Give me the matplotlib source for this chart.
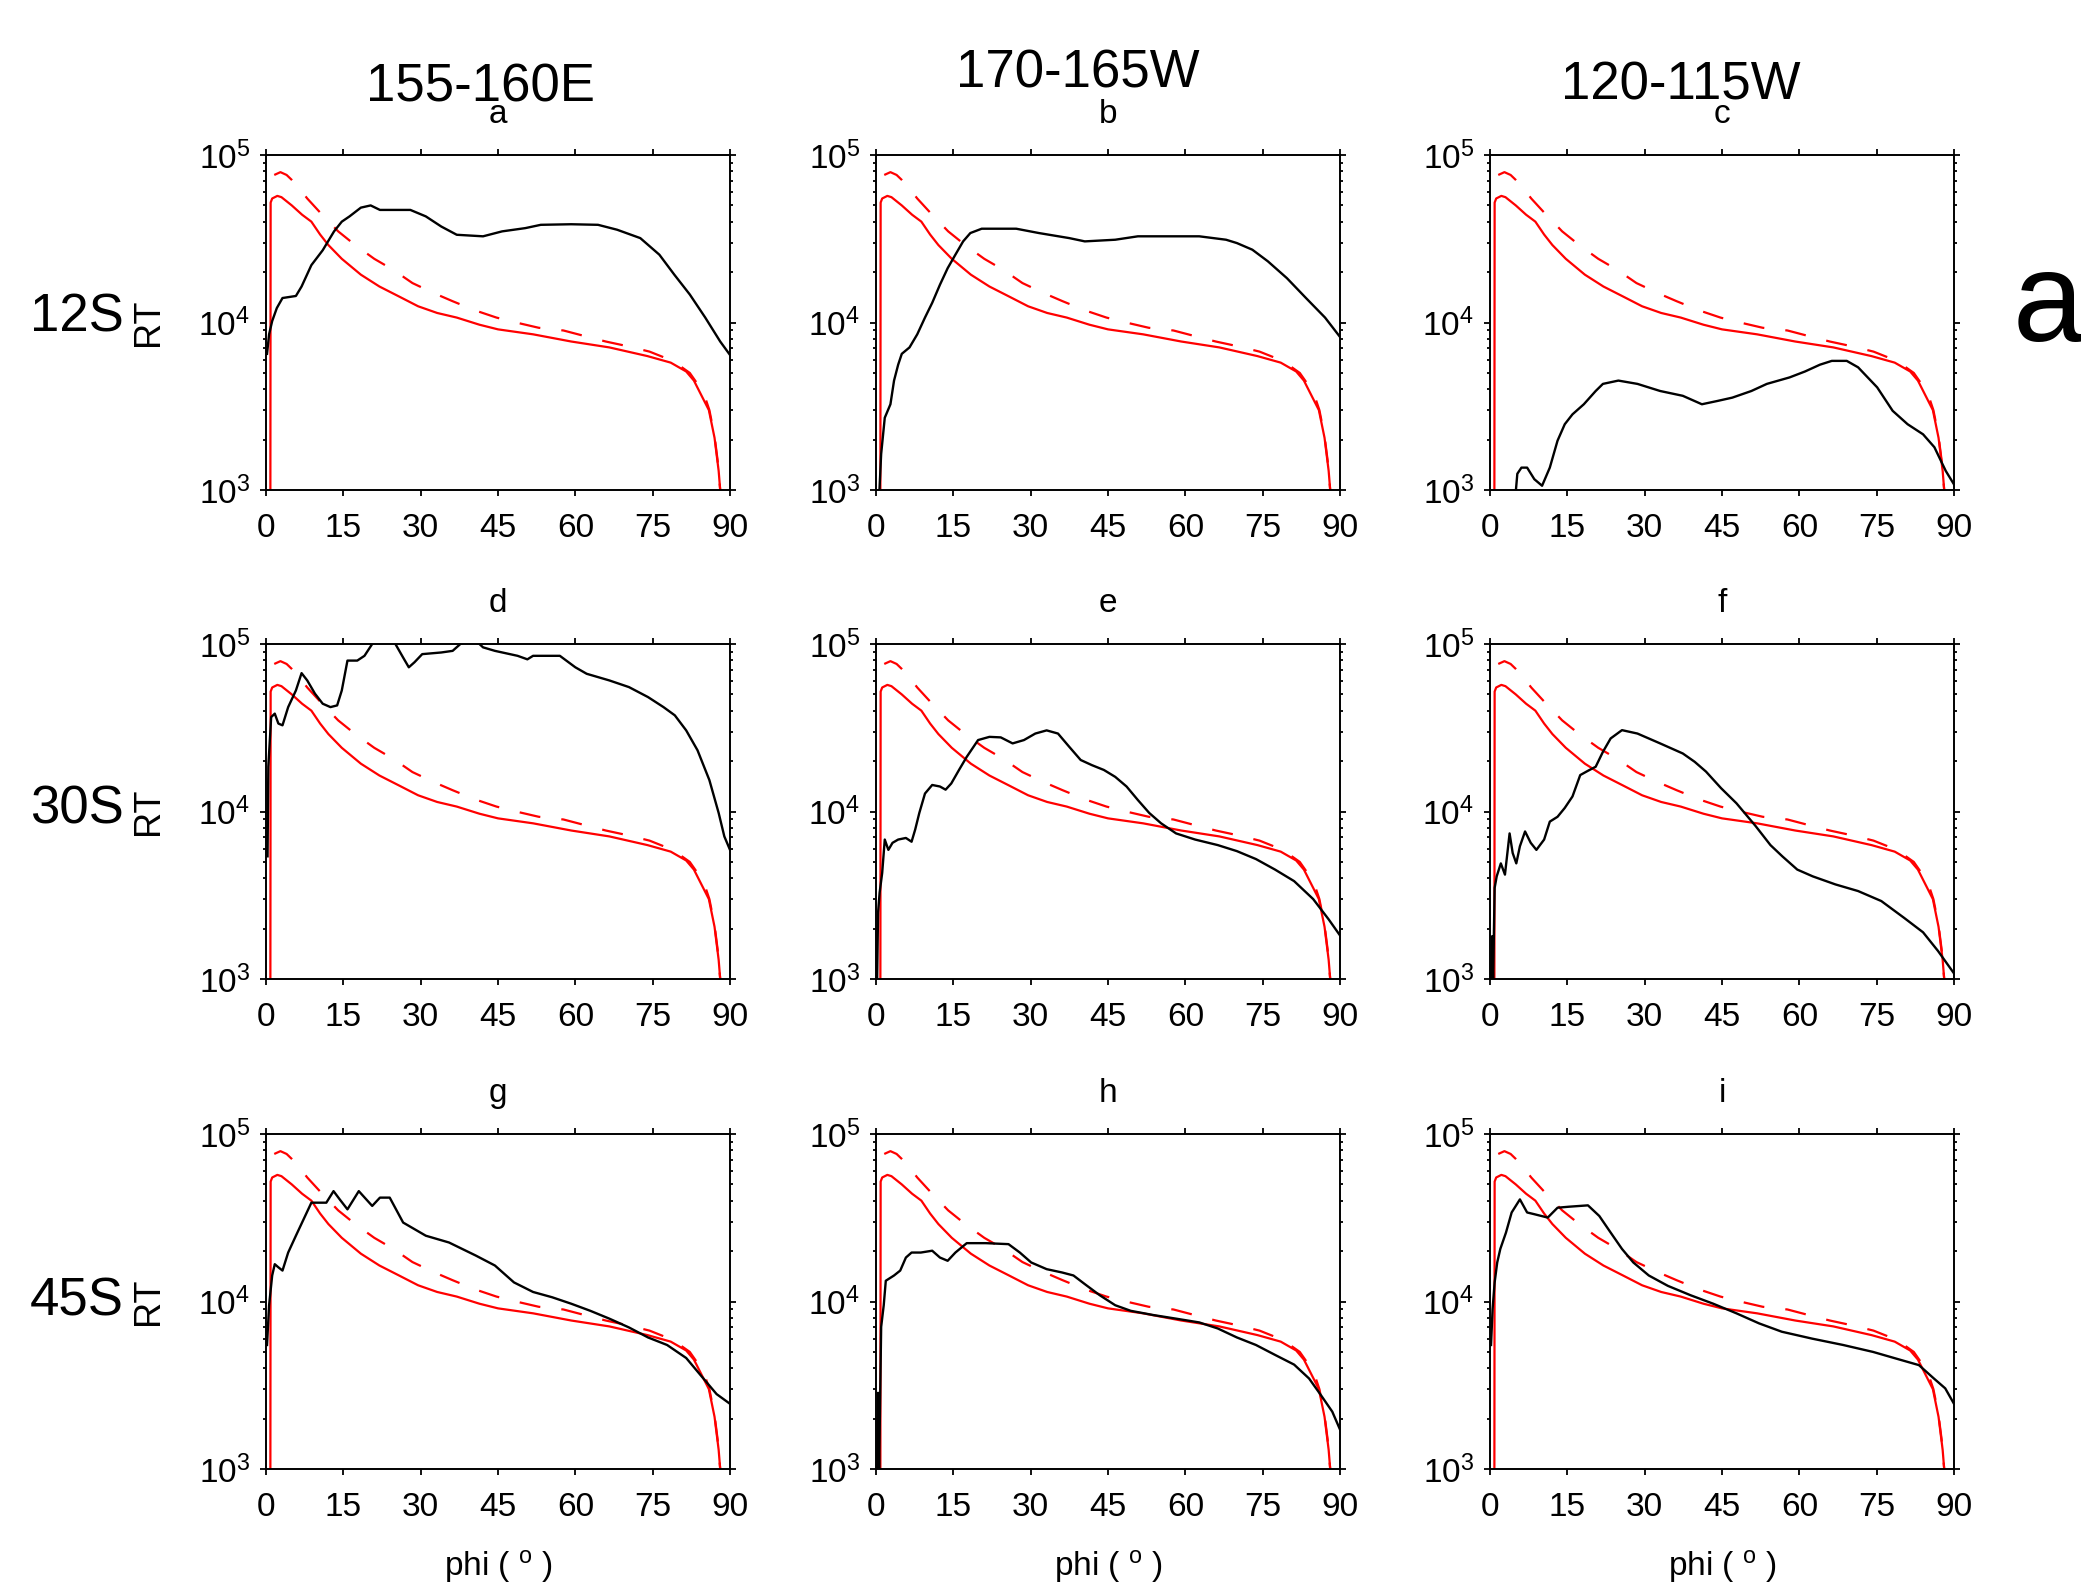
import matplotlib
matplotlib.use('Agg')
import matplotlib.pyplot as plt
from matplotlib.ticker import LogLocator, NullFormatter

plt.rcParams['font.family'] = ['Liberation Sans', 'DejaVu Sans']
plt.rcParams['mathtext.fontset'] = 'custom'
plt.rcParams['mathtext.rm'] = 'Liberation Sans'
plt.rcParams['mathtext.it'] = 'Liberation Sans:italic'
plt.rcParams['mathtext.bf'] = 'Liberation Sans:bold'
plt.rcParams['mathtext.default'] = 'regular'

# model curves (same in every panel)
red_phi = [0.8, 0.85, 0.9, 1.2, 2.2, 3.0, 5, 7, 8.8, 10.5, 12.1, 14.7, 18.4, 22, 25.8, 29.5,
           33.2, 37, 41.4, 45, 51.8, 59.2, 66.6, 74, 78.5, 81.5, 83, 84.4, 85.9, 87.0,
           87.8, 88.1, 88.3]
red_rt = [600, 1.0e3, 52e3, 55e3, 57e3, 56e3, 50e3, 44e3, 40e3, 33.5e3, 29e3, 24e3, 19.3e3,
          16.4e3, 14.3e3, 12.5e3, 11.4e3, 10.7e3, 9.7e3, 9.1e3, 8.5e3, 7.7e3, 7.1e3, 6.3e3,
          5.76e3, 5.1e3, 4.5e3, 3.7e3, 3.0e3, 2.05e3, 1.3e3, 1.0e3, 600]

red2_phi = [1.6, 2.8, 4, 5, 6.5, 8, 10.6, 14, 17.3, 21, 24.7, 28.4, 32.5, 36.2, 40.6, 44.7,
            48.8, 52.9, 57.7, 61.8, 65.9, 70.3, 74.4, 78.9, 82.2, 84.4, 85.2, 86, 87, 87.6,
            88.1, 88.3]
red2_rt = [76e3, 79e3, 76e3, 71e3, 63e3, 55e3, 45e3, 35e3, 29e3, 24e3, 20.6e3, 17.2e3, 15e3,
           13.4e3, 11.8e3, 10.7e3, 9.95e3, 9.3e3, 8.96e3, 8.3e3, 7.7e3, 7.2e3, 6.7e3, 5.9e3,
           5.0e3, 4.0e3, 3.55e3, 3.0e3, 2.1e3, 1.5e3, 1.0e3, 600]

# observed curves, one per panel
phi_a = [0.2, 0.6, 1.2, 2.1, 3.2, 5.8, 6.9, 8.8, 11, 13.2, 14.7, 16.2, 18.4, 20.3, 22.1, 28,
         31, 34, 37, 42.1, 45.8, 50.3, 53.3, 59.2, 64.4, 68.1, 72.6, 76.3, 79.2, 82.2, 85.2,
         88.1, 90]
rt_a = [6.5e3, 8.5e3, 10.2e3, 12.2e3, 14e3, 14.4e3, 16.4e3, 22e3, 27e3, 35e3, 40e3, 43e3,
        48.5e3, 50e3, 47e3, 47e3, 43e3, 37.4e3, 33.4e3, 32.7e3, 35e3, 36.6e3, 38.3e3, 38.6e3,
        38.3e3, 35.8e3, 31.9e3, 25.4e3, 19.3e3, 14.7e3, 10.7e3, 7.7e3, 6.4e3]

phi_b = [0.6, 1.0, 1.7, 2.8, 3.5, 4.3, 5, 6.5, 8, 9.5, 10.9, 12.4, 13.9, 15.4, 16.9, 18.3,
         20.5, 27.2, 31.6, 37.5, 40.5, 46.4, 50.8, 62.7, 67.9, 70, 73, 76, 79.7, 83.4, 87.1, 90]
rt_b = [0.9e3, 1.64e3, 2.7e3, 3.25e3, 4.5e3, 5.6e3, 6.5e3, 7.1e3, 8.5e3, 10.7e3, 13.1e3,
        16.8e3, 21.1e3, 25.4e3, 30.5e3, 34.2e3, 36.3e3, 36.3e3, 34.2e3, 31.9e3, 30.5e3,
        31.2e3, 32.7e3, 32.7e3, 31.2e3, 29.8e3, 27.2e3, 23.2e3, 18.4e3, 14e3, 10.7e3, 8.2e3]

phi_c = [4.9, 5.3, 6.1, 7.2, 8.6, 10.1, 11.6, 13.1, 14.5, 16, 18.2, 20.5, 21.9, 24.9, 28.6,
         33, 37.4, 41.1, 44.1, 47, 50.7, 53.7, 58.1, 61.1, 64, 66.3, 69.2, 71.4, 75.1, 78.1,
         81, 84, 86.2, 88.4, 90]
rt_c = [0.9e3, 1.25e3, 1.36e3, 1.36e3, 1.16e3, 1.06e3, 1.36e3, 1.97e3, 2.47e3, 2.83e3,
        3.25e3, 3.9e3, 4.3e3, 4.5e3, 4.3e3, 3.9e3, 3.65e3, 3.25e3, 3.4e3, 3.56e3, 3.9e3,
        4.3e3, 4.7e3, 5.1e3, 5.6e3, 5.9e3, 5.9e3, 5.4e3, 4.1e3, 2.97e3, 2.47e3, 2.15e3,
        1.8e3, 1.3e3, 1.08e3]

phi_d = [0.3, 0.45, 1, 1.7, 2.4, 3.2, 4.3, 5.8, 6.9, 8, 9.5, 11, 12.5, 13.8, 14.7, 15.8,
         17.7, 19.1, 20.6, 22.5, 24, 25.1, 26.6, 27.7, 28.8, 30.3, 34, 36.2, 37.7, 39.5,
         41.4, 42.1, 44.4, 48.8, 50.7, 51.8, 57, 60, 62.2, 66.6, 70.4, 74.1, 77.1, 79.3,
         81.5, 83.7, 86, 87.8, 88.9, 90]
rt_d = [5.4e3, 18.5e3, 36.6e3, 38.4e3, 33.5e3, 32.7e3, 42e3, 52.8e3, 67e3, 60.6e3, 50.5e3,
        44e3, 42e3, 43e3, 52.8e3, 79.6e3, 79.6e3, 85e3, 100e3, 112e3, 110e3, 100e3, 83e3,
        72.6e3, 77.8e3, 87e3, 89e3, 91e3, 100e3, 104e3, 100e3, 95.5e3, 91e3, 85e3, 81e3,
        85e3, 85e3, 72.6e3, 66.4e3, 60.6e3, 55.3e3, 48.2e3, 42e3, 37.5e3, 30.5e3, 23.2e3,
        15.4e3, 9.8e3, 7.1e3, 5.9e3]

phi_e = [0.2, 0.4, 0.7, 1.2, 1.7, 2.4, 3.2, 4.3, 5.8, 6.9, 7.6, 8.4, 9.5, 10.9, 12.4, 13.5,
         14.6, 16.1, 17.6, 19.8, 22, 24.2, 26.5, 28.7, 30.9, 33.1, 35.3, 37.5, 39.7, 41.9,
         44.2, 46.4, 48.6, 50.8, 53, 55.3, 58.2, 61.9, 66.3, 70, 73.7, 77.4, 81.1, 84.8,
         87.8, 90]
rt_e = [0.9e3, 2.49e3, 3.27e3, 4.3e3, 6.8e3, 5.9e3, 6.5e3, 6.8e3, 6.95e3, 6.6e3, 7.8e3,
        9.8e3, 12.8e3, 14.4e3, 14.1e3, 13.5e3, 14.7e3, 17.7e3, 21.2e3, 26.7e3, 27.9e3,
        27.7e3, 25.5e3, 26.7e3, 29.2e3, 30.5e3, 29.2e3, 24.3e3, 20.3e3, 18.9e3, 17.7e3,
        16.1e3, 14.1e3, 11.7e3, 9.8e3, 8.5e3, 7.4e3, 6.8e3, 6.3e3, 5.8e3, 5.2e3, 4.5e3,
        3.84e3, 3.0e3, 2.27e3, 1.82e3]

phi_f = [0.2, 0.4, 0.6, 0.9, 1.3, 2.1, 2.9, 3.8, 4.4, 5.1, 5.8, 6.8, 7.9, 9.0, 10.5, 11.6,
         13.1, 14.5, 16, 17.5, 19, 20.5, 21.9, 23.4, 25.6, 28.6, 33, 37.4, 39.7, 41.9, 44.8,
         47.8, 51.5, 54.4, 56.7, 59.6, 62.6, 67, 71.4, 75.9, 80.3, 84, 86.9, 90]
rt_f = [0.9e3, 1.8e3, 0.95e3, 3.5e3, 4.1e3, 4.9e3, 4.2e3, 7.4e3, 5.65e3, 4.9e3, 6.2e3,
        7.6e3, 6.5e3, 5.9e3, 6.8e3, 8.7e3, 9.3e3, 10.5e3, 12.3e3, 16.5e3, 17.5e3, 18.5e3,
        22.7e3, 27.3e3, 30.6e3, 29.2e3, 25.5e3, 22.2e3, 19.8e3, 17.3e3, 13.8e3, 11.2e3,
        8.2e3, 6.3e3, 5.4e3, 4.5e3, 4.1e3, 3.67e3, 3.35e3, 2.92e3, 2.32e3, 1.9e3, 1.47e3,
        1.08e3]

phi_g = [0.2, 0.6, 1.2, 1.7, 2.4, 3.2, 4.3, 5.8, 7.3, 8.8, 11.7, 13.1, 14.3, 15.8, 18, 20.6,
         22.1, 24, 26.6, 31, 35.5, 40.7, 44.4, 48.1, 51.8, 55.5, 59.2, 62.9, 66.6, 70.4,
         74.1, 77.8, 81.5, 84.4, 87.4, 90]
rt_g = [5.5e3, 9.5e3, 14.3e3, 16.7e3, 16e3, 15.3e3, 19.6e3, 24.7e3, 31e3, 38.9e3, 38.9e3,
        45.6e3, 40.7e3, 35.5e3, 45.6e3, 37.2e3, 41.7e3, 41.7e3, 29.6e3, 24.7e3, 22.5e3,
        18.8e3, 16.4e3, 13e3, 11.4e3, 10.6e3, 9.7e3, 8.8e3, 7.9e3, 7.0e3, 6.1e3, 5.5e3,
        4.6e3, 3.6e3, 2.8e3, 2.45e3]

phi_h = [0.2, 0.4, 0.6, 1.0, 1.5, 1.9, 3.5, 4.7, 5.8, 6.9, 8.7, 10.9, 12.4, 13.9, 15.4, 17.6,
         21.3, 25.7, 27.9, 30.1, 33.1, 36.1, 38.3, 40.5, 43.4, 46.4, 49.4, 53.8, 58.2, 62.7,
         66.3, 70, 73.7, 77.4, 81.1, 84, 86.3, 88.5, 90]
rt_h = [0.9e3, 2.85e3, 0.95e3, 7.05e3, 9.5e3, 13.3e3, 14.3e3, 15.3e3, 18.3e3, 19.6e3,
        19.6e3, 20.1e3, 18.3e3, 17.5e3, 19.6e3, 22.3e3, 22.3e3, 22e3, 19.6e3, 17.1e3,
        15.6e3, 14.9e3, 14.3e3, 12.7e3, 10.9e3, 9.5e3, 8.8e3, 8.3e3, 7.9e3, 7.5e3, 6.9e3,
        6.1e3, 5.5e3, 4.8e3, 4.2e3, 3.47e3, 2.76e3, 2.2e3, 1.72e3]

phi_i = [0.2, 0.5, 0.9, 1.4, 2, 3.1, 4.2, 5.8, 7.2, 8.6, 11.2, 13.1, 15.3, 19, 21.2, 23.4,
         25.6, 27.8, 30.8, 34.5, 38.9, 43.3, 47.8, 52.2, 56.6, 62.5, 68.5, 74.3, 78.8, 83.2,
         86.1, 88.3, 90]
rt_i = [5.5e3, 9e3, 13e3, 17.1e3, 20.6e3, 25.8e3, 34e3, 40.7e3, 34e3, 33.2e3, 31.7e3,
        36.3e3, 36.8e3, 37.5e3, 32.4e3, 25.8e3, 20.6e3, 17.1e3, 14.3e3, 12.4e3, 10.9e3,
        9.7e3, 8.5e3, 7.4e3, 6.6e3, 6.0e3, 5.5e3, 5.0e3, 4.56e3, 4.17e3, 3.47e3, 3.03e3,
        2.45e3]

panel_letters = ['a', 'b', 'c', 'd', 'e', 'f', 'g', 'h', 'i']
col_titles = ['155-160E', '170-165W', '120-115W']
row_titles = ['12S', '30S', '45S']
black_phi = [phi_a, phi_b, phi_c, phi_d, phi_e, phi_f, phi_g, phi_h, phi_i]
black_rt = [rt_a, rt_b, rt_c, rt_d, rt_e, rt_f, rt_g, rt_h, rt_i]

W, H = 2081, 1591
fig = plt.figure(figsize=(W / 100, H / 100), dpi=100)

col_x = [266, 876, 1490]
row_y = [155, 644, 1134]
aw, ah = 464, 335

for k in range(9):
    r, c = k // 3, k % 3
    ax = fig.add_axes([col_x[c] / W, 1 - (row_y[r] + ah) / H, aw / W, ah / H])
    ax.plot(red2_phi, red2_rt, color='red', lw=1.6, dashes=(9.5, 9.5))
    ax.plot(red_phi, red_rt, color='red', lw=1.6)
    ax.plot(black_phi[k], black_rt[k], color='black', lw=1.7)

    ax.set_yscale('log')
    ax.set_xlim(0, 90)
    ax.set_ylim(1e3, 1e5)
    ax.set_xticks(range(0, 91, 15))
    ax.yaxis.set_major_locator(LogLocator(base=10, numticks=5))
    ax.yaxis.set_minor_locator(LogLocator(base=10, subs=range(2, 10), numticks=20))
    ax.yaxis.set_minor_formatter(NullFormatter())
    ax.tick_params(which='both', direction='out', top=True, right=True,
                   labelsize=24, width=1.3, colors='black')
    ax.tick_params(which='major', length=4.5)
    ax.tick_params(which='minor', length=2.2)
    ax.tick_params(axis='x', pad=12)
    ax.tick_params(axis='y', pad=7)
    for sp in ax.spines.values():
        sp.set_linewidth(1.4)

    ax.text(0.5, 1 + 32 / ah, panel_letters[k], transform=ax.transAxes,
            ha='center', va='baseline', fontsize=24)
    if c == 0:
        ax.set_ylabel('RT', fontsize=26)
        ax.yaxis.set_label_coords(-0.215, 0.5)
    if r == 2:
        ax.set_xlabel(r'phi ( $^{\mathrm{o}}$ )', fontsize=24)
        ax.xaxis.set_label_coords(0.5, -0.235)

col_cx = [480, 1078, 1681]
col_cy = [87, 73, 86]
for c in range(3):
    fig.text(col_cx[c] / W, 1 - col_cy[c] / H, col_titles[c], fontsize=38,
             ha='center', va='center')

row_cy = [318, 810, 1302]
for r in range(3):
    fig.text(77 / W, 1 - row_cy[r] / H, row_titles[r], fontsize=38,
             ha='center', va='center')

fig.text(2013 / W, 1 - 308 / H, 'a', fontsize=92, ha='left', va='center')

fig.savefig('out.png', dpi=100)
